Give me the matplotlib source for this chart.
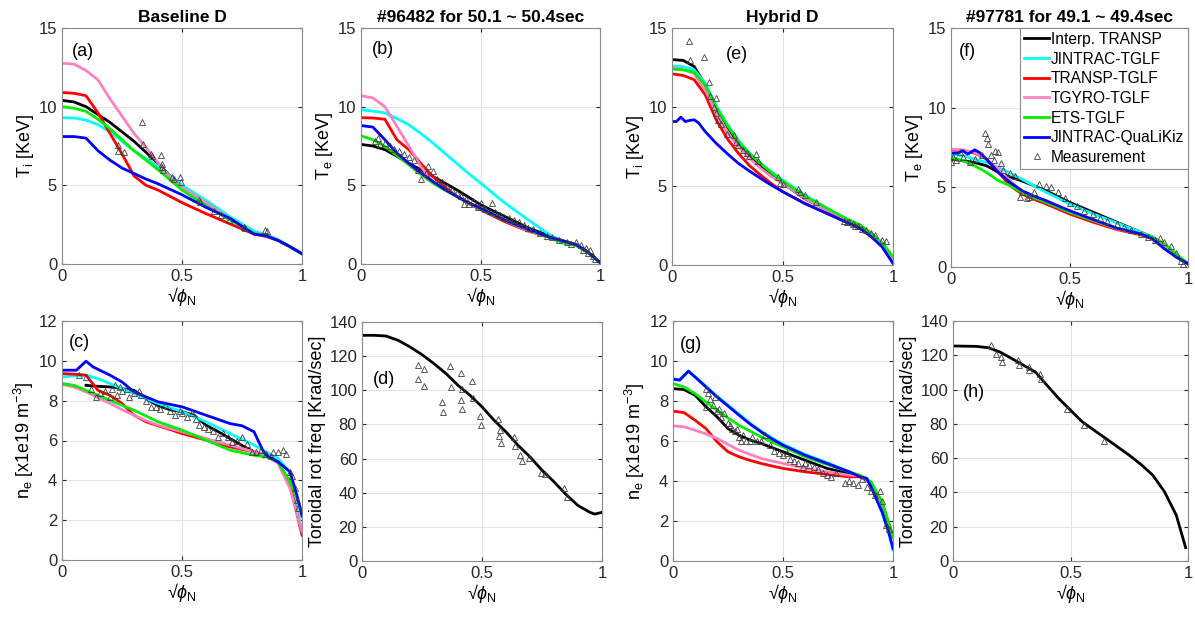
import matplotlib
matplotlib.use('Agg')
import matplotlib.pyplot as plt

plt.rcParams['font.family'] = 'Liberation Sans'
plt.rcParams['mathtext.fontset'] = 'custom'
plt.rcParams['mathtext.rm'] = 'Liberation Sans'
plt.rcParams['mathtext.it'] = 'Liberation Sans:italic'

labels = ['Interp. TRANSP', 'JINTRAC-TGLF', 'TRANSP-TGLF', 'TGYRO-TGLF',
          'ETS-TGLF', 'JINTRAC-QuaLiKiz']
colors = ['black', '#00ffff', '#ff0000', '#ff80c0', '#00ee00', '#0000ff']

# common radial knots
x = [0, 0.05, 0.1, 0.15, 0.2, 0.25, 0.3, 0.35, 0.4, 0.45, 0.5, 0.6, 0.7, 0.8,
     0.85, 0.9, 0.95, 1.0]

# (a) Ti, Baseline D
a_black = [10.4, 10.3, 10.0, 9.5, 9.0, 8.4, 7.8, 7.1, 6.4, 5.6, 4.9, 3.9, 2.9, 2.0, 1.8, 1.5, 1.1, 0.65]
a_cyan = [9.3, 9.28, 9.15, 8.85, 8.4, 7.8, 7.2, 6.7, 6.2, 5.6, 5.0, 4.05, 3.0, 2.1, 1.85, 1.55, 1.1, 0.65]
a_red = [10.9, 10.85, 10.7, 9.6, 8.3, 7.0, 5.6, 5.0, 4.7, 4.3, 3.9, 3.2, 2.55, 1.9, 1.75, 1.5, 1.1, 0.65]
a_pink = [12.77, 12.7, 12.3, 11.7, 10.5, 9.4, 8.3, 7.4, 6.45, 5.5, 4.85, 3.9, 2.85, 1.95, 1.8, 1.5, 1.1, 0.65]
a_green = [10.0, 9.9, 9.7, 9.2, 8.6, 7.9, 7.2, 6.6, 6.0, 5.35, 4.7, 3.7, 2.8, 1.95, 1.8, 1.5, 1.1, 0.65]
a_blue = [8.1, 8.1, 8.0, 7.2, 6.6, 6.1, 5.75, 5.4, 5.1, 4.75, 4.4, 3.6, 2.9, 1.9, 1.8, 1.5, 1.1, 0.65]
a_mx = [0.333, 0.232, 0.232, 0.26, 0.338, 0.371, 0.375, 0.414, 0.417, 0.418, 0.421, 0.46, 0.465, 0.49,
        0.496, 0.572, 0.576, 0.632, 0.663, 0.694, 0.757, 0.764, 0.844, 0.854]
a_my = [9.04, 7.55, 7.19, 7.13, 7.6, 6.98, 6.85, 6.91, 6.38, 6.17, 5.96, 5.53, 5.4, 5.53,
        5.21, 4.09, 3.94, 3.36, 3.09, 2.81, 2.34, 2.3, 2.13, 2.09]

# (b) Te, #96482
b_black = [7.6, 7.5, 7.27, 6.85, 6.4, 6.0, 5.57, 5.15, 4.72, 4.25, 3.77, 3.03, 2.29, 1.72, 1.45, 1.23, 0.75, 0.1]
b_cyan = [9.8, 9.72, 9.6, 9.25, 8.85, 8.3, 7.7, 7.05, 6.4, 5.75, 5.15, 3.9, 2.8, 1.75, 1.45, 1.25, 0.75, 0.1]
b_red = [9.3, 9.28, 9.2, 7.9, 7.27, 6.4, 5.57, 4.9, 4.3, 3.85, 3.45, 2.7, 2.08, 1.65, 1.45, 1.23, 0.75, 0.1]
b_pink = [10.7, 10.55, 10.0, 8.75, 7.5, 6.2, 5.25, 4.7, 4.3, 3.9, 3.55, 2.8, 2.1, 1.65, 1.45, 1.23, 0.75, 0.1]
b_green = [8.15, 7.9, 7.48, 6.9, 6.3, 5.7, 5.15, 4.7, 4.3, 3.9, 3.5, 2.8, 2.2, 1.6, 1.33, 1.17, 0.7, 0.1]
b_blue = [8.8, 8.7, 7.9, 7.05, 6.4, 5.8, 5.25, 4.75, 4.3, 3.9, 3.55, 2.8, 2.2, 1.65, 1.45, 1.23, 0.75, 0.1]
b_mx = [0.06, 0.07, 0.08, 0.1, 0.12, 0.14, 0.16, 0.18, 0.2, 0.22, 0.24, 0.25, 0.27, 0.28, 0.3, 0.32,
        0.34, 0.36, 0.38, 0.4, 0.42, 0.43, 0.44, 0.45, 0.47, 0.49, 0.5, 0.52, 0.54, 0.55, 0.56, 0.58,
        0.6, 0.62, 0.64, 0.66, 0.68, 0.7, 0.72, 0.75, 0.78, 0.8, 0.83, 0.86, 0.88, 0.9, 0.92, 0.93,
        0.94, 0.95, 0.96, 0.97, 0.98]
b_my = [7.8, 8.0, 7.6, 7.7, 7.5, 7.3, 7.2, 7.0, 6.8, 6.6, 6.0, 5.4, 5.8, 6.2, 5.9, 5.4,
        5.2, 4.9, 4.7, 4.5, 4.3, 3.8, 4.1, 3.8, 4.0, 3.6, 3.9, 3.5, 3.4, 3.9, 3.3, 3.1,
        3.0, 2.9, 2.8, 2.7, 2.5, 2.3, 2.2, 2.0, 1.8, 1.7, 1.5, 1.4, 1.3, 1.4, 1.2, 0.9,
        1.0, 0.7, 0.9, 0.5, 0.3]

# (e) Ti, Hybrid D
e_black = [13.0, 12.95, 12.57, 11.4, 10.0, 8.77, 7.7, 6.87, 6.23, 5.7, 5.18, 4.2, 3.5, 2.75, 2.43, 2.0, 1.37, 0.3]
e_cyan = [12.6, 12.55, 12.36, 11.5, 10.1, 8.9, 7.9, 7.1, 6.44, 5.9, 5.39, 4.44, 3.6, 2.85, 2.54, 2.0, 1.37, 0.42]
e_red = [12.1, 12.0, 11.73, 10.78, 9.19, 8.0, 7.08, 6.3, 5.7, 5.15, 4.65, 3.9, 3.27, 2.64, 2.35, 1.9, 1.2, 0.2]
e_pink = [12.46, 12.4, 12.1, 11.1, 9.6, 8.4, 7.5, 6.75, 6.13, 5.6, 5.18, 4.22, 3.49, 2.81, 2.5, 2.0, 1.37, 0.35]
e_green = [12.4, 12.35, 12.2, 11.4, 10.0, 8.85, 7.82, 7.05, 6.44, 5.85, 5.32, 4.37, 3.6, 2.85, 2.54, 2.0, 1.42, 0.53]
e_blue_x = [0, 0.02, 0.04, 0.06, 0.08, 0.1, 0.12, 0.15, 0.2, 0.25, 0.3, 0.35, 0.4, 0.45, 0.5, 0.6,
            0.7, 0.8, 0.85, 0.9, 0.95, 1.0]
e_blue = [9.08, 9.08, 9.36, 9.08, 9.15, 9.19, 9.0, 8.45, 7.7, 7.05, 6.44, 5.95, 5.49, 5.05, 4.65, 3.9,
          3.27, 2.64, 2.32, 1.8, 1.16, 0.1]
e_mx = [0.075, 0.08, 0.143, 0.166, 0.173, 0.2, 0.19, 0.2, 0.21, 0.22, 0.25, 0.28, 0.29, 0.3, 0.32,
        0.34, 0.35, 0.38, 0.39, 0.48, 0.49, 0.5, 0.57, 0.58, 0.6, 0.65, 0.78, 0.79, 0.8, 0.82, 0.83,
        0.84, 0.86, 0.88, 0.9, 0.92, 0.95, 0.97]
e_my = [14.2, 13.0, 13.15, 11.6, 10.7, 10.6, 10.0, 9.6, 9.2, 8.9, 8.3, 8.2, 7.8, 7.6, 7.3,
        7.1, 6.9, 7.0, 6.6, 5.6, 5.2, 5.1, 4.8, 4.6, 4.4, 4.0, 2.8, 2.7, 2.75, 2.6, 2.5,
        2.5, 2.3, 2.2, 2.0, 1.9, 1.6, 1.5]

# (f) Te, #97781
f_black = [6.77, 6.67, 6.56, 6.35, 5.94, 5.65, 5.4, 5.1, 4.8, 4.43, 4.06, 3.44, 2.81, 2.19, 1.88, 1.35, 0.73, 0.2]
f_cyan = [7.08, 6.98, 6.77, 6.56, 6.25, 5.9, 5.5, 5.1, 4.7, 4.33, 3.96, 3.33, 2.77, 2.19, 1.88, 1.25, 0.69, 0.2]
f_red = [7.35, 7.3, 7.15, 6.77, 5.94, 5.1, 4.58, 4.25, 3.96, 3.65, 3.33, 2.81, 2.35, 2.02, 1.77, 1.19, 0.63, 0.2]
f_pink = [7.4, 7.35, 7.19, 6.77, 6.15, 5.4, 4.69, 4.4, 4.17, 3.8, 3.44, 2.92, 2.4, 2.08, 1.81, 1.25, 0.69, 0.2]
f_green = [6.88, 6.67, 6.35, 5.94, 5.42, 5.1, 4.69, 4.35, 4.06, 3.75, 3.44, 2.92, 2.44, 2.08, 1.88, 1.46, 0.83, 0.2]
f_blue_x = [0, 0.03, 0.05, 0.07, 0.1, 0.12, 0.15, 0.2, 0.25, 0.3, 0.35, 0.4, 0.45, 0.5, 0.6, 0.7,
            0.8, 0.85, 0.9, 0.95, 1.0]
f_blue = [7.15, 7.15, 7.3, 7.08, 7.35, 7.19, 6.77, 5.94, 5.3, 4.79, 4.45, 4.17, 3.85, 3.54, 2.98, 2.44,
          2.08, 1.77, 1.15, 0.63, 0.2]
f_mx = [0.0, 0.01, 0.02, 0.04, 0.05, 0.08, 0.1, 0.13, 0.145, 0.15, 0.155, 0.17, 0.18, 0.185, 0.2,
        0.21, 0.22, 0.25, 0.27, 0.29, 0.3, 0.32, 0.33, 0.35, 0.37, 0.4, 0.42, 0.45, 0.48, 0.5, 0.53,
        0.56, 0.6, 0.63, 0.66, 0.7, 0.73, 0.76, 0.8, 0.83, 0.86, 0.88, 0.9, 0.93, 0.95, 0.97, 0.98]
f_my = [6.6, 6.9, 6.7, 7.2, 6.9, 6.6, 6.8, 7.0, 8.4, 8.1, 7.7, 7.0, 6.7, 7.3, 7.2,
        6.5, 6.1, 5.9, 5.7, 4.4, 4.7, 4.3, 4.4, 4.7, 5.2, 5.1, 5.0, 4.7, 4.3, 4.0, 3.8,
        3.5, 3.3, 3.1, 2.9, 2.7, 2.5, 2.3, 2.1, 1.9, 1.7, 1.8, 1.6, 1.3, 0.9, 0.4, 0.2]

# (c) ne, Baseline D
c_black_x = [0.1, 0.15, 0.2, 0.25, 0.3, 0.35, 0.4, 0.45, 0.5, 0.55, 0.6, 0.65, 0.7, 0.75, 0.8, 0.84]
c_black = [8.77, 8.72, 8.69, 8.6, 8.52, 8.1, 7.75, 7.55, 7.44, 7.27, 6.77, 6.45, 6.1, 5.75, 5.43, 5.18]
c_cyan = [9.19, 9.25, 9.28, 9.1, 8.86, 8.6, 8.36, 8.1, 7.86, 7.65, 7.44, 6.94, 6.35, 5.77, 5.43, 5.1, 4.4, 1.4]
c_red = [9.36, 9.33, 9.28, 8.52, 8.27, 7.86, 7.27, 6.94, 6.74, 6.55, 6.35, 6.02, 5.68, 5.43, 5.26, 4.93, 3.76, 1.25]
c_pink = [8.81, 8.69, 8.44, 8.15, 7.86, 7.55, 7.27, 7.0, 6.77, 6.6, 6.44, 6.1, 5.77, 5.43, 5.26, 4.85, 3.59, 1.42]
c_green = [8.86, 8.77, 8.52, 8.27, 8.02, 7.77, 7.52, 7.23, 6.94, 6.73, 6.52, 6.02, 5.52, 5.26, 5.18, 4.93, 3.93, 2.42]
c_blue_x = [0, 0.06, 0.1, 0.13, 0.2, 0.25, 0.3, 0.4, 0.5, 0.6, 0.7, 0.75, 0.8, 0.82, 0.84, 0.86, 0.9,
            0.95, 0.98, 1.0]
c_blue = [9.53, 9.53, 9.98, 9.69, 9.28, 8.94, 8.44, 7.94, 7.69, 7.27, 6.85, 6.74, 6.44, 5.93, 5.43, 5.18,
          4.93, 4.43, 3.2, 2.2]
c_mx = [0.07, 0.1, 0.12, 0.14, 0.16, 0.18, 0.2, 0.21, 0.22, 0.23, 0.24, 0.25, 0.27, 0.28, 0.3, 0.32,
        0.33, 0.35, 0.37, 0.39, 0.41, 0.43, 0.45, 0.47, 0.49, 0.5, 0.52, 0.54, 0.56, 0.57, 0.59, 0.61,
        0.63, 0.65, 0.67, 0.69, 0.71, 0.73, 0.75, 0.77, 0.79, 0.81, 0.83, 0.85, 0.87, 0.88, 0.9, 0.92,
        0.935, 0.95, 0.96, 0.97, 0.98, 0.985]
c_my = [9.3, 9.2, 8.6, 8.2, 8.4, 8.5, 8.2, 8.6, 8.8, 8.3, 8.7, 8.5, 8.6, 8.2, 8.4, 8.5,
        8.3, 8.0, 7.7, 7.7, 7.6, 7.8, 7.5, 7.3, 7.5, 7.4, 7.2, 7.4, 7.1, 6.8, 6.7, 6.6,
        6.5, 6.2, 6.4, 6.2, 5.9, 6.0, 6.2, 5.8, 5.4, 5.4, 5.5, 5.3, 5.2, 5.4, 5.4, 5.5,
        5.3, 4.4, 4.2, 3.6, 3.0, 2.6]

# (d) toroidal rotation, #96482
d_x = [0, 0.05, 0.1, 0.15, 0.2, 0.25, 0.3, 0.35, 0.4, 0.45, 0.5, 0.55, 0.6, 0.65, 0.7, 0.75, 0.8,
       0.85, 0.9, 0.95, 0.97, 1.0]
d_black = [132.2, 132.2, 131.8, 129.3, 125.4, 120.9, 115.6, 109.8, 102.9, 97.1, 90.3, 82.5, 75.6,
           67.8, 61.0, 53.2, 46.4, 39.0, 32.5, 28.5, 27.5, 28.5]
d_mx = [0.233, 0.26, 0.233, 0.26, 0.333, 0.336, 0.368, 0.372, 0.414, 0.417, 0.414, 0.418, 0.46,
        0.463, 0.49, 0.497, 0.567, 0.574, 0.572, 0.579, 0.632, 0.636, 0.66, 0.667, 0.694, 0.746,
        0.764, 0.84, 0.854]
d_my = [114.6, 112.7, 106.8, 102.6, 93.2, 87.0, 114.0, 102.0, 110.4, 101.0, 94.2, 88.9, 105.3,
        95.5, 85.0, 79.9, 82.9, 76.6, 73.1, 69.4, 72.7, 67.5, 62.0, 58.7, 60.1, 51.3,
        50.7, 42.5, 37.6]

# (g) ne, Hybrid D
g_black = [8.62, 8.57, 8.29, 7.71, 7.21, 6.62, 6.29, 6.05, 5.88, 5.67, 5.46, 5.04, 4.63, 4.38, 4.26, 3.9, 2.9, 1.2]
g_red = [7.49, 7.42, 7.04, 6.62, 5.96, 5.46, 5.21, 5.03, 4.88, 4.75, 4.63, 4.46, 4.33, 4.21, 4.21, 3.9, 2.9, 1.2]
g_pink = [6.76, 6.71, 6.54, 6.35, 6.13, 5.83, 5.54, 5.33, 5.13, 5.0, 4.88, 4.63, 4.46, 4.29, 4.26, 3.9, 2.9, 1.2]
g_green = [8.87, 8.7, 8.37, 7.95, 7.54, 7.15, 6.79, 6.5, 6.21, 5.95, 5.71, 5.21, 4.83, 4.46, 4.29, 3.96, 2.96, 1.22]
g_blue_x = [0, 0.03, 0.07, 0.1, 0.15, 0.2, 0.25, 0.3, 0.35, 0.4, 0.45, 0.5, 0.6, 0.7, 0.8, 0.85, 0.88,
            0.9, 0.95, 0.98, 1.0]
g_cyan = [9.12, 9.07, 9.5, 9.23, 8.74, 8.25, 7.8, 7.35, 6.9, 6.5, 6.15, 5.84, 5.33, 4.92, 4.48, 4.23,
          4.15, 3.72, 2.45, 1.4, 0.55]
g_blue = [9.09, 9.04, 9.49, 9.2, 8.7, 8.2, 7.75, 7.29, 6.85, 6.46, 6.1, 5.79, 5.29, 4.88, 4.46, 4.21,
          4.13, 3.71, 2.46, 1.46, 0.63]
g_mx = [0.15, 0.16, 0.17, 0.18, 0.19, 0.15, 0.2, 0.21, 0.22, 0.23, 0.25, 0.26, 0.27, 0.28, 0.29, 0.3,
        0.31, 0.32, 0.33, 0.35, 0.36, 0.38, 0.4, 0.42, 0.44, 0.46, 0.48, 0.5, 0.52, 0.53, 0.55, 0.57,
        0.59, 0.6, 0.62, 0.64, 0.66, 0.68, 0.7, 0.72, 0.74, 0.78, 0.8, 0.82, 0.84, 0.86, 0.88, 0.9,
        0.92, 0.94, 0.95, 0.97, 0.98]
g_my = [8.6, 8.4, 8.1, 7.8, 8.2, 7.7, 7.5, 7.6, 7.2, 7.4, 6.9, 6.8, 6.6, 6.5, 6.6, 6.2,
        6.0, 6.3, 6.0, 6.0, 6.2, 6.0, 6.0, 6.3, 5.8, 5.5, 5.4, 5.3, 5.4, 5.1, 5.0, 4.9,
        4.7, 4.9, 4.8, 4.7, 4.6, 4.4, 4.3, 4.2, 4.4, 3.9, 4.0, 3.9, 3.8, 4.1, 3.7, 3.5,
        3.3, 3.5, 3.0, 1.8, 1.6]

# (h) toroidal rotation, #97781
h_x = [0.01, 0.1, 0.15, 0.2, 0.25, 0.3, 0.35, 0.4, 0.45, 0.5, 0.55, 0.6, 0.65, 0.7, 0.75, 0.8, 0.85,
       0.9, 0.95, 0.99]
h_black = [125.4, 125.2, 124.4, 121.9, 118.1, 114.2, 110.3, 102.5, 94.8, 88.0, 81.2, 76.3, 71.5,
           66.6, 61.7, 56.3, 50.1, 40.4, 26.8, 7.8]
h_mx = [0.163, 0.184, 0.205, 0.208, 0.276, 0.279, 0.322, 0.325, 0.372, 0.375, 0.485, 0.556, 0.644]
h_my = [126.2, 121.0, 119.0, 116.1, 117.1, 114.2, 113.2, 111.3, 109.3, 106.0, 88.5, 79.6, 69.9]


W, H = 1195, 617
fig = plt.figure(figsize=(W / 100, H / 100), dpi=100)


def make_ax(left, top, width, bottom):
    ax = fig.add_axes([left / W, 1 - bottom / H, width / W, (bottom - top) / H])
    ax.set_xlim(0, 1)
    ax.set_xticks([0, 0.5, 1])
    ax.set_xticklabels(['0', '0.5', '1'])
    ax.grid(True, color='#e3e3e3', linewidth=0.7)
    ax.set_axisbelow(True)
    ax.tick_params(direction='in', length=3, labelsize=12, colors='#262626',
                   top=True, right=True)
    for s in ax.spines.values():
        s.set_color('#8a8a8a')
        s.set_linewidth(0.8)
    ax.set_xlabel('√$\\phi_\\mathrm{N}$', fontsize=13, labelpad=1)
    return ax


def profiles(ax, curves):
    for (xs, ys), c, lab in zip(curves, colors, labels):
        ax.plot(xs, ys, color=c, lw=2, label=lab)


def measured(ax, mx, my):
    ax.plot(mx, my, '^', ms=5, mfc='none', mec='#404040', mew=0.6,
            label='Measurement', zorder=5)


# top row
ax_a = make_ax(62, 28, 240, 264)
profiles(ax_a, [(x, a_black), (x, a_cyan), (x, a_red), (x, a_pink), (x, a_green), (x, a_blue)])
measured(ax_a, a_mx, a_my)

ax_b = make_ax(361, 28, 239, 264)
profiles(ax_b, [(x, b_black), (x, b_cyan), (x, b_red), (x, b_pink), (x, b_green), (x, b_blue)])
measured(ax_b, b_mx, b_my)

ax_e = make_ax(672, 28, 221, 265)
profiles(ax_e, [(x, e_black), (x, e_cyan), (x, e_red), (x, e_pink), (x, e_green), (e_blue_x, e_blue)])
measured(ax_e, e_mx, e_my)

ax_f = make_ax(951, 28, 237, 267)
profiles(ax_f, [(x, f_black), (x, f_cyan), (x, f_red), (x, f_pink), (x, f_green), (f_blue_x, f_blue)])
measured(ax_f, f_mx, f_my)

for ax, lab in [(ax_a, 'T$_\\mathrm{i}$ [KeV]'), (ax_b, 'T$_\\mathrm{e}$ [KeV]'),
                (ax_e, 'T$_\\mathrm{i}$ [KeV]'), (ax_f, 'T$_\\mathrm{e}$ [KeV]')]:
    ax.set_ylim(0, 15)
    ax.set_yticks([0, 5, 10, 15])
    ax.set_ylabel(lab, fontsize=13, labelpad=2)

ax_a.set_title('Baseline D', fontsize=12.5, fontweight='bold', pad=4)
ax_b.set_title('#96482 for 50.1 ~ 50.4sec', fontsize=12.5, fontweight='bold', pad=4)
ax_e.set_title('Hybrid D', fontsize=12.5, fontweight='bold', pad=4)
ax_f.set_title('#97781 for 49.1 ~ 49.4sec', fontsize=12.5, fontweight='bold', pad=4)

leg = ax_f.legend(loc='upper right', fontsize=11.2, borderaxespad=0, handlelength=1.6,
                  handletextpad=0.1, labelspacing=0.3, borderpad=0.25, fancybox=False,
                  framealpha=1, edgecolor='#8a8a8a', markerscale=0.8)
leg.get_frame().set_linewidth(0.8)

# bottom row
ax_c = make_ax(62, 321, 240, 560)
profiles(ax_c, [(c_black_x, c_black), (x, c_cyan), (x, c_red), (x, c_pink), (x, c_green), (c_blue_x, c_blue)])
measured(ax_c, c_mx, c_my)

ax_d = make_ax(362, 322, 240, 561)
ax_d.plot(d_x, d_black, color='black', lw=2)
measured(ax_d, d_mx, d_my)

ax_g = make_ax(673, 321, 220, 561)
profiles(ax_g, [(x, g_black), (g_blue_x, g_cyan), (x, g_red), (x, g_pink), (x, g_green), (g_blue_x, g_blue)])
measured(ax_g, g_mx, g_my)

ax_h = make_ax(953, 321, 235, 561)
ax_h.plot(h_x, h_black, color='black', lw=2)
measured(ax_h, h_mx, h_my)

for ax in [ax_c, ax_g]:
    ax.set_ylim(0, 12)
    ax.set_yticks(range(0, 13, 2))
    ax.set_ylabel('n$_\\mathrm{e}$ [x1e19 m$^{-3}$]', fontsize=13, labelpad=2)
for ax in [ax_d, ax_h]:
    ax.set_ylim(0, 140)
    ax.set_yticks(range(0, 141, 20))
    ax.set_ylabel('Toroidal rot freq [Krad/sec]', fontsize=13, labelpad=2)

# panel tags
for ax, tag, px, py in [(ax_a, '(a)', 0.04, 0.9), (ax_b, '(b)', 0.045, 0.91),
                        (ax_e, '(e)', 0.245, 0.89), (ax_f, '(f)', 0.034, 0.9),
                        (ax_c, '(c)', 0.03, 0.91), (ax_d, '(d)', 0.046, 0.76),
                        (ax_g, '(g)', 0.03, 0.9), (ax_h, '(h)', 0.04, 0.7)]:
    ax.text(px, py, tag, transform=ax.transAxes, fontsize=13, va='center', ha='left')

fig.savefig('out.png', dpi=100)
